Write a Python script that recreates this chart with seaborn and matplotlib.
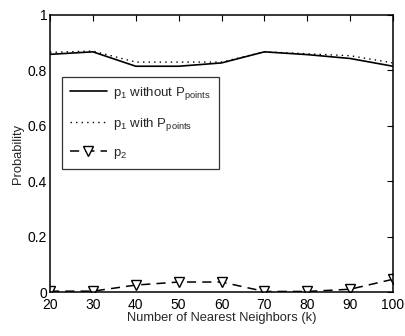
import numpy as np
import pandas as pd
import matplotlib
matplotlib.use("Agg")
import matplotlib.pyplot as plt
import seaborn as sns

k_values = [20, 30, 40, 50, 60, 70, 80, 90, 100]
p1_without = [0.858, 0.867, 0.815, 0.815, 0.827, 0.867, 0.857, 0.843, 0.815]
p1_with = [0.865, 0.870, 0.830, 0.830, 0.830, 0.867, 0.860, 0.853, 0.827]
p2 = [0.003, 0.003, 0.025, 0.036, 0.036, 0.002, 0.002, 0.010, 0.046]
y_ticks = [0, 0.2, 0.4, 0.6, 0.8, 1]
y_tick_labels = ["0", "0.2", "0.4", "0.6", "0.8", "1"]

sns.set_style("white")
plt.rcParams["font.family"] = ["Liberation Sans", "DejaVu Sans"]
plt.rcParams["mathtext.fontset"] = "custom"
plt.rcParams["mathtext.rm"] = "Liberation Sans"
plt.rcParams["mathtext.it"] = "Liberation Sans"

df = pd.DataFrame({"k": k_values, "without": p1_without, "with": p1_with, "p2": p2})

fig = plt.figure(figsize=(4.05, 3.36), dpi=100)
ax = fig.add_axes([50 / 405, 1 - 292 / 336, 343 / 405, 277 / 336])

sns.lineplot(data=df, x="k", y="without", ax=ax, color="black", lw=1.2,
             label=r"p$_1$ without P$_{\mathrm{points}}$")
sns.lineplot(data=df, x="k", y="with", ax=ax, color="black", lw=1.0,
             linestyle=(0, (1, 3)), label=r"p$_1$ with P$_{\mathrm{points}}$")
sns.lineplot(data=df, x="k", y="p2", ax=ax, color="black", lw=1.1,
             linestyle=(0, (6, 4)), marker="v", markersize=7.5,
             markerfacecolor="white", markeredgecolor="black", markeredgewidth=1.0,
             label=r"p$_2$")

ax.set_xlim(20, 100)
ax.set_ylim(0, 1)
ax.set_xticks(k_values)
ax.set_yticks(y_ticks)
ax.set_yticklabels(y_tick_labels)
ax.tick_params(direction="in", length=4, width=0.8, top=True, right=True,
               labelsize=10, pad=2, colors="black")
ax.tick_params(axis="x", pad=4)
for s in ax.spines.values():
    s.set_color("black")
    s.set_linewidth(1.1)
ax.set_xlabel("Number of Nearest Neighbors (k)", fontsize=9.3, labelpad=0)
ax.set_ylabel("Probability", fontsize=9.3, labelpad=3)

leg = ax.legend(loc="upper left", bbox_to_anchor=(0.035, 0.776), borderaxespad=0,
                fontsize=9.5, frameon=True, fancybox=False, edgecolor="black",
                handlelength=2.8, borderpad=0.6, labelspacing=1.05,
                handletextpad=0.5)
leg.get_frame().set_linewidth(0.9)

fig.savefig("out.png", dpi=100)
